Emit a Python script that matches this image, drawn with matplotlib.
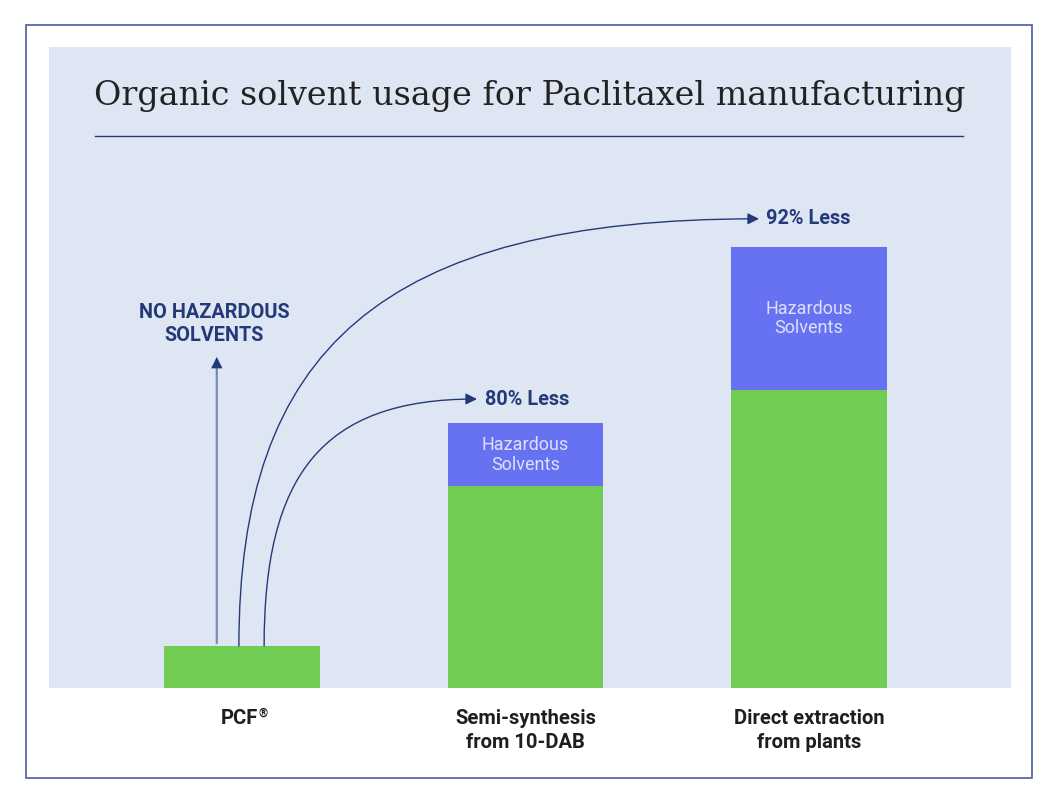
import matplotlib
matplotlib.use("Agg")
import matplotlib.pyplot as plt
from matplotlib.patches import Rectangle, FancyArrowPatch
from matplotlib.path import Path
from matplotlib.lines import Line2D

# ---- data ----
categories = ["PCF", "Semi-synthesis\nfrom 10-DAB", "Direct extraction\nfrom plants"]
other_solvents = [10, 48, 71]
hazardous_solvents = [0, 15, 34]
reduction_labels = ["80% Less", "92% Less"]
title = "Organic solvent usage for Paclitaxel manufacturing"

GREEN = "#70cc52"
VIOLET = "#6772f3"
PANEL = "#dfe6f3"
NAVY = "#243a78"
BORDER = "#4a5da0"

W, H = 1057, 807
fig = plt.figure(figsize=(W / 100, H / 100), dpi=100)
fig.patch.set_facecolor("white")

def px(x0, y0, x1, y1):
    return [x0 / W, 1 - y1 / H, (x1 - x0) / W, (y1 - y0) / H]

# outer border
fig.add_artist(Rectangle((26 / W, 1 - 778 / H), (1032 - 26) / W, (778 - 25) / H,
                         transform=fig.transFigure, fill=False, edgecolor=BORDER, lw=1.2))

# panel (the axes)
ax = fig.add_axes(px(49, 47, 1011, 688))
ax.set_facecolor(PANEL)
for s in ax.spines.values():
    s.set_visible(False)
ax.set_xticks([])
ax.set_yticks([])

x = list(range(len(categories)))
bw = 0.55
ax.bar(x, other_solvents, width=bw, color=GREEN, zorder=2)
ax.bar(x, hazardous_solvents, width=bw, bottom=other_solvents, color=VIOLET, zorder=2)
ax.set_xlim(-0.681, 2.713)
ax.set_ylim(0, 152.6)

# hazardous labels
for i in range(len(categories)):
    if hazardous_solvents[i] > 0:
        ax.text(x[i], other_solvents[i] + hazardous_solvents[i] / 2, "Hazardous\nSolvents",
                ha="center", va="center", color="#dde1f8", fontsize=13.0,
                family="Roboto", linespacing=1.1, zorder=3)

# category labels below
label_y = -4.9
ax.text(0.058, label_y, "PCF", ha="right", va="top", fontsize=14.5, fontweight="bold",
        family="Roboto", color="#1e1e1e", clip_on=False)
ax.annotate("®", xy=(0.058, label_y), xytext=(0.3, 1.5), textcoords="offset points",
            ha="left", va="top", fontsize=8.5, fontweight="bold", family="Roboto",
            color="#1e1e1e", annotation_clip=False)
for i in (1, 2):
    ax.text(x[i], label_y, categories[i], ha="center", va="top", fontsize=14.5,
            fontweight="bold", family="Roboto", color="#1e1e1e", linespacing=1.35,
            clip_on=False)

# up arrow and NO HAZARDOUS label
totals = [o + h for o, h in zip(other_solvents, hazardous_solvents)]
up_x = -0.089
ax.annotate("", xy=(up_x, 78.8), xytext=(up_x, other_solvents[0]),
            arrowprops=dict(arrowstyle="-", color="#7b8cbf", lw=1.6), zorder=3)
ax.annotate("", xy=(up_x, 78.8), xytext=(up_x, 74.5),
            arrowprops=dict(arrowstyle="-|>", color=NAVY, lw=0.1, mutation_scale=20,
                            shrinkA=0, shrinkB=0), zorder=4)
ax.text(-0.099, 81.6, "NO HAZARDOUS\nSOLVENTS", ha="center", va="bottom", fontsize=14.3,
        fontweight="bold", family="Roboto", color=NAVY, linespacing=1.25)

# curved arrows
def curve(x0, y0, x3, y3, fy, fx):
    p1 = (x0, y0 + fy * (y3 - y0))
    p2 = (x0 + fx * (x3 - x0), y3)
    path = Path([(x0, y0), p1, p2, (x3, y3)],
                [Path.MOVETO, Path.CURVE4, Path.CURVE4, Path.CURVE4])
    arr = FancyArrowPatch(path=path, arrowstyle="-|>", mutation_scale=17,
                          color=NAVY, lw=1.0, shrinkA=0, shrinkB=0, zorder=4)
    ax.add_patch(arr)

curve(0.078, other_solvents[0], 0.829, totals[1] + 5.8, 0.69, 0.27)
curve(-0.011, other_solvents[0], 1.824, totals[2] + 6.7, 0.69, 0.27)

ax.text(0.857, totals[1] + 5.8, reduction_labels[0], ha="left", va="center", fontsize=14.3,
        fontweight="bold", family="Roboto", color=NAVY)
ax.text(1.848, totals[2] + 6.7, reduction_labels[1], ha="left", va="center", fontsize=14.3,
        fontweight="bold", family="Roboto", color=NAVY)

# title and underline
fig.text(530 / W, 1 - 96 / H, title, ha="center", va="center", fontsize=24,
         family="DejaVu Serif", color="#222222")
fig.add_artist(Line2D([95 / W, 963 / W], [1 - 136 / H, 1 - 136 / H],
                      transform=fig.transFigure, color=NAVY, lw=1.0))

fig.savefig("out.png", dpi=100, facecolor="white")
